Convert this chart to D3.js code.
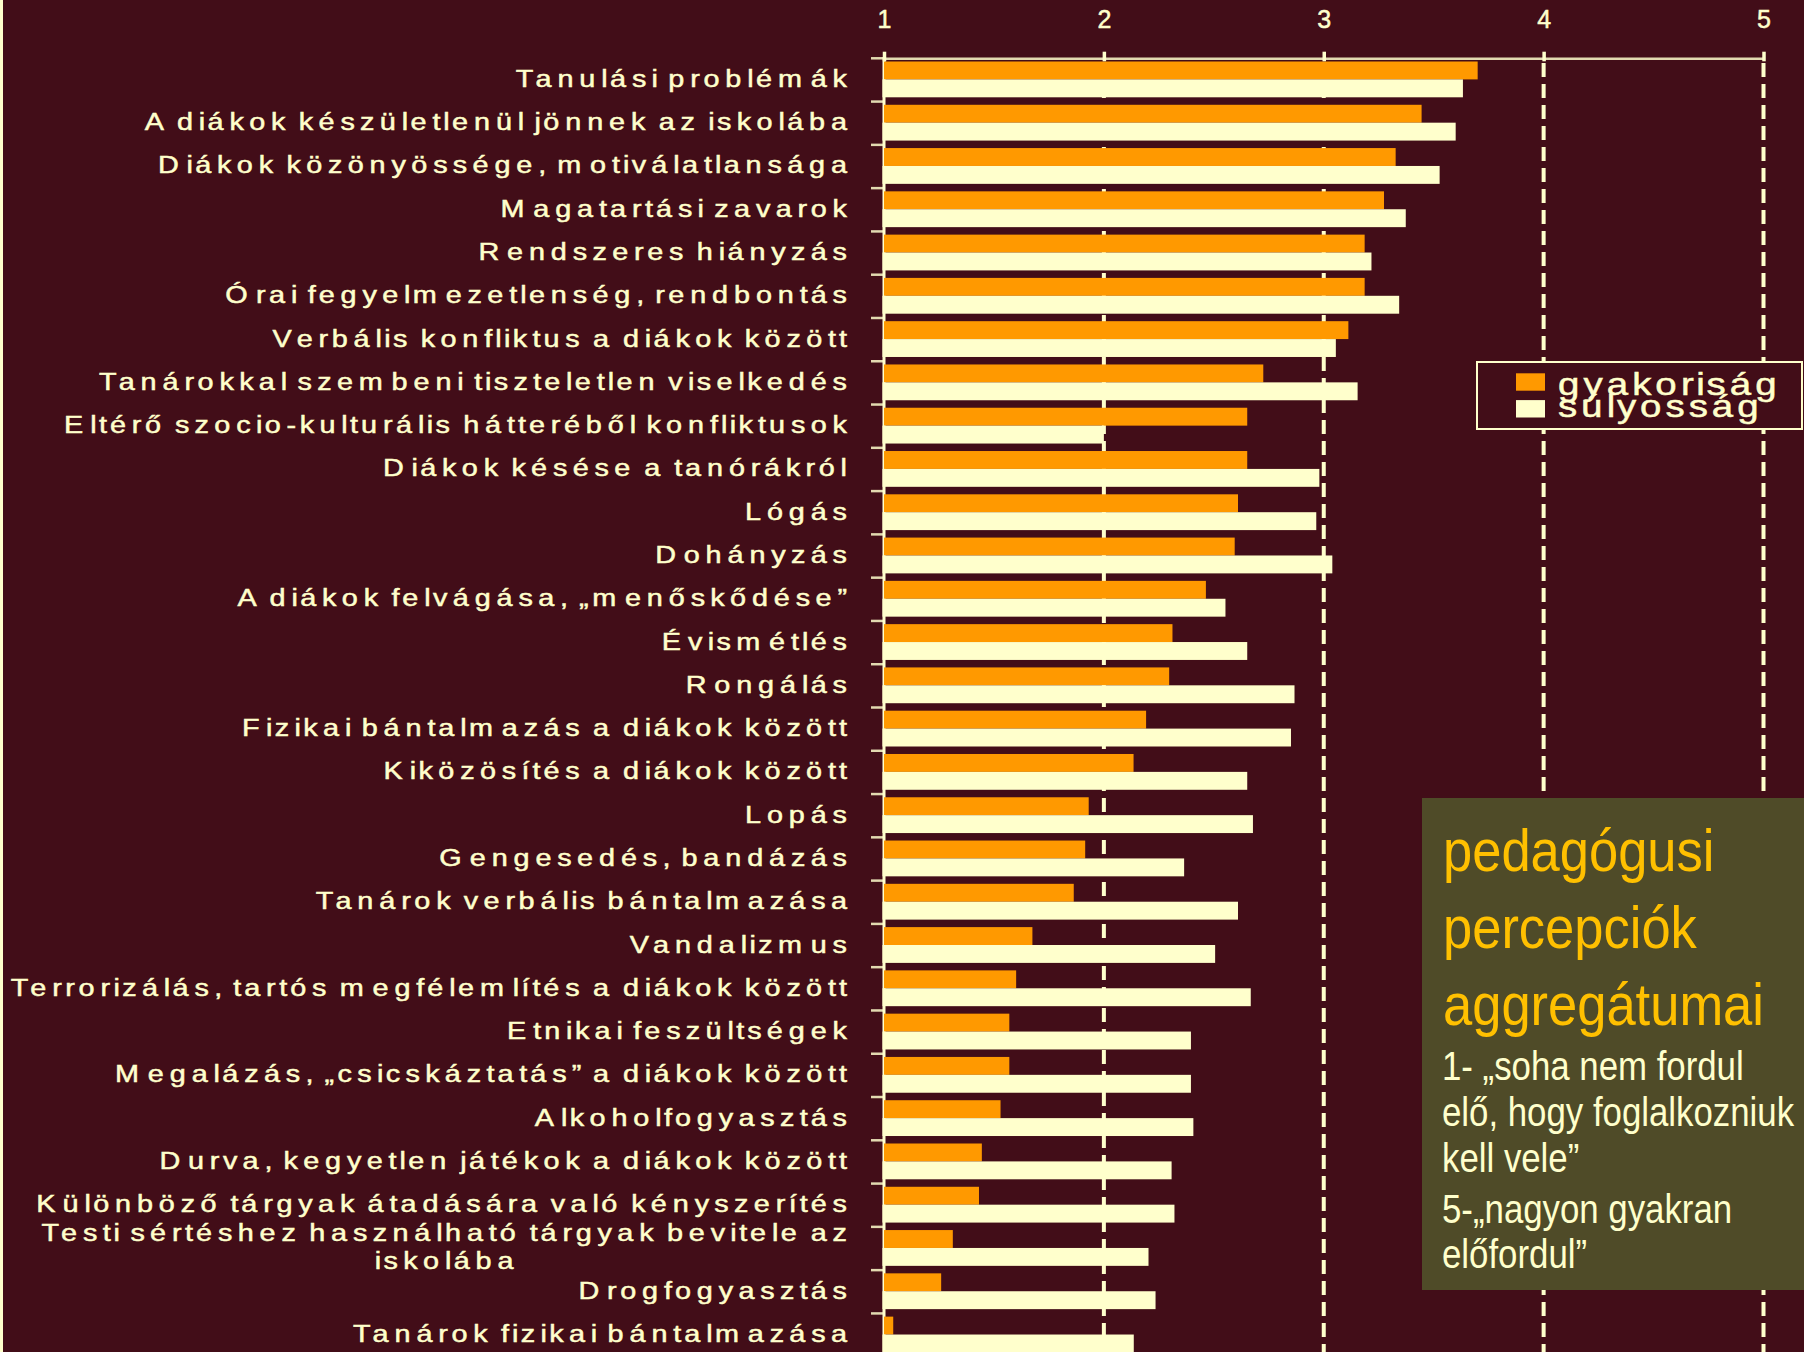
<!DOCTYPE html>
<html><head><meta charset="utf-8">
<script src="https://cdn.jsdelivr.net/npm/d3@7"></script>
<style>html,body{margin:0;padding:0;background:#420D18;} svg{display:block}</style>
</head><body>
<script>
// ---------- DATA ----------
const categories = [
  "Tanulási problémák",
  "A diákok készületlenül jönnek az iskolába",
  "Diákok közönyössége, motiválatlansága",
  "Magatartási zavarok",
  "Rendszeres hiányzás",
  "Órai fegyelmezetlenség, rendbontás",
  "Verbális konfliktus a diákok között",
  "Tanárokkal szembeni tiszteletlen viselkedés",
  "Eltérő szocio-kulturális hátteréből konfliktusok",
  "Diákok késése a tanórákról",
  "Lógás",
  "Dohányzás",
  "A diákok felvágása, „menőskődése”",
  "Évismétlés",
  "Rongálás",
  "Fizikai bántalmazás a diákok között",
  "Kiközösítés a diákok között",
  "Lopás",
  "Gengesedés, bandázás",
  "Tanárok verbális bántalmazása",
  "Vandalizmus",
  "Terrorizálás, tartós megfélemlítés a diákok között",
  "Etnikai feszültségek",
  "Megalázás, „csicskáztatás” a diákok között",
  "Alkoholfogyasztás",
  "Durva, kegyetlen játékok a diákok között",
  "Különböző tárgyak átadására való kényszerítés",
  "Testi sértéshez használható tárgyak bevitele az\niskolába",
  "Drogfogyasztás",
  "Tanárok fizikai bántalmazása"
];
const gyakorisag = [3.70, 3.445, 3.327, 3.274, 3.186, 3.186, 3.112, 2.725, 2.652, 2.652,
                    2.61, 2.595, 2.464, 2.312, 2.297, 2.192, 2.135, 1.931, 1.915, 1.863,
                    1.675, 1.601, 1.57, 1.57, 1.53, 1.445, 1.432, 1.313, 1.26, 1.042];
const sulyossag  = [3.633, 3.60, 3.527, 3.373, 3.217, 3.343, 3.055, 3.154, 2.0, 2.98,
                    2.966, 3.039, 2.553, 2.652, 2.867, 2.851, 2.652, 2.678, 2.365, 2.61,
                    2.506, 2.668, 2.396, 2.396, 2.407, 2.308, 2.321, 2.203, 2.235, 2.136];
const seriesNames = ["gyakoriság", "súlyosság"];
const xTicks = [1, 2, 3, 4, 5];
const boxTitle = ["pedagógusi", "percepciók", "aggregátumai"];
const boxBody1 = ["1- „soha nem fordul", "elő, hogy foglalkozniuk", "kell vele”"];
const boxBody2 = ["5-„nagyon gyakran", "előfordul”"];

// ---------- STYLE ----------
const W = 1804, H = 1352;
const BG = "#420D18", ORANGE = "#FF9900", CREAM = "#FFFFCC", OLIVE = "#4F4B28", GOLD = "#FFC000";
const FONT = "'Liberation Sans', Arial, sans-serif";

const svg = d3.select("body").append("svg").attr("width", W).attr("height", H);
svg.append("rect").attr("width", W).attr("height", H).attr("fill", BG);
svg.append("rect").attr("x", 0).attr("y", 0).attr("width", 3).attr("height", H).attr("fill", CREAM);

const x = d3.scaleLinear().domain([1, 5]).range([884, 1763.5]);
const bandTop = 58.3, bandH = 43.28;
const y = d3.scaleBand().domain(categories).range([bandTop, bandTop + bandH * categories.length]);

// gridlines (behind bars)
svg.append("g").selectAll("line").data(xTicks.slice(1)).join("line")
  .attr("x1", d => x(d)).attr("x2", d => x(d))
  .attr("y1", 63).attr("y2", H)
  .attr("stroke", CREAM).attr("stroke-width", 4).attr("stroke-dasharray", "14,7");

// left axis line
svg.append("line").attr("x1", x(1)).attr("x2", x(1)).attr("y1", bandTop - 1).attr("y2", H)
  .attr("stroke", CREAM).attr("stroke-width", 3);

// bars
const barOff = 3.2, barH = 17.9;
const rows = categories.map((c, i) => ({c, g: gyakorisag[i], s: sulyossag[i]}));
const bars = svg.append("g");
bars.selectAll("rect.g").data(rows).join("rect").attr("class", "g")
  .attr("x", x(1)).attr("y", d => y(d.c) + barOff)
  .attr("width", d => x(d.g) - x(1)).attr("height", barH).attr("fill", ORANGE);
bars.selectAll("rect.s").data(rows).join("rect").attr("class", "s")
  .attr("x", x(1) - 1.5).attr("y", d => y(d.c) + barOff + barH)
  .attr("width", d => x(d.s) - x(1) + 1.5).attr("height", barH).attr("fill", CREAM);

// left category tick marks (between categories)
const bounds = categories.map(c => y(c)).concat([y(categories[categories.length - 1]) + bandH]);
svg.append("g").selectAll("line").data(bounds).join("line")
  .attr("x1", 871).attr("x2", x(1) + 1).attr("y1", d => d).attr("y2", d => d)
  .attr("stroke", CREAM).attr("stroke-opacity", 0.85).attr("stroke-width", 2.5);

// top axis
const axTop = svg.append("g").attr("transform", `translate(0,${bandTop})`)
  .call(d3.axisTop(x).tickValues(xTicks).tickFormat(d3.format("d"))
        .tickSizeInner(6.6).tickSizeOuter(0).tickPadding(23.4));
axTop.select(".domain").attr("stroke", CREAM).attr("stroke-opacity", 0.85).attr("stroke-width", 2.5);
axTop.selectAll(".tick line").attr("stroke", CREAM).attr("stroke-width", 3.5).attr("y1", 3);
axTop.selectAll(".tick text").attr("fill", CREAM).attr("font-family", FONT).attr("font-size", 25)
  .attr("stroke", CREAM).attr("stroke-width", 0.5);

// widely-spaced text helper (GDI-like advances); glyphs stretched by s
function spacedText(parent, str, xPos, yBase, size, k, ksp, s, align, fill) {
  const g = parent.append("g").attr("transform", `scale(${s},1)`);
  const t = g.append("text").attr("font-family", FONT).attr("font-size", size)
    .attr("fill", fill).attr("stroke", fill).attr("stroke-width", 0.5)
    .attr("y", yBase).text(str);
  const n = str.length;
  const pos = [];
  let acc = 0, lastAdv = 0;
  for (let i = 0; i < n; i++) {
    const a = t.node().getSubStringLength(i, 1);
    pos.push(acc);
    acc += a * (str[i] === " " ? ksp : k);
    lastAdv = a;
  }
  const width = pos[n - 1] + lastAdv * s;
  let x0 = xPos;
  if (align === "end") x0 = xPos - width;
  else if (align === "middle") x0 = xPos - width / 2;
  t.attr("x", pos.map(p => ((x0 + p) / s).toFixed(2)).join(" "));
  return {x0, width};
}

// category labels
const K = 1.64, KSP = 1.2, S = 1.2, LABEL_RIGHT = 847;
const labG = svg.append("g");
categories.forEach(c => {
  const cy = y(c) + bandH / 2;
  const parts = c.split("\n");
  if (parts.length === 1) {
    spacedText(labG, c, LABEL_RIGHT, cy + 7, 24, K, KSP, S, "end", CREAM);
  } else {
    const r = spacedText(labG, parts[0], LABEL_RIGHT, cy - 7.8, 24, K, KSP, S, "end", CREAM);
    spacedText(labG, parts[1], r.x0 + r.width / 2, cy + 20.8, 24, K, KSP, S, "middle", CREAM);
  }
});

// legend
const lg = svg.append("g");
lg.append("rect").attr("x", 1477).attr("y", 362).attr("width", 325).attr("height", 67)
  .attr("fill", BG).attr("stroke", CREAM).attr("stroke-width", 2);
const legColors = [ORANGE, CREAM];
seriesNames.forEach((s, i) => {
  lg.append("rect").attr("x", 1516).attr("y", 373.3 + i * 26.8).attr("width", 29).attr("height", 17.4)
    .attr("fill", legColors[i]);
  spacedText(lg, s, 1558, 395 + i * 22.3, 32, 1.44, 1.44, 1.2, "start", CREAM);
});

// text box
const tb = svg.append("g");
tb.append("rect").attr("x", 1422).attr("y", 798).attr("width", W - 1422).attr("height", 492).attr("fill", OLIVE);
const titleBase = [870.7, 948.3, 1025];
boxTitle.forEach((s, i) => {
  tb.append("g").attr("transform", `translate(1443,${titleBase[i]}) scale(0.875,1)`)
    .append("text").attr("font-family", FONT).attr("font-size", 60).attr("fill", GOLD).text(s);
});
const bodyBase1 = [1080, 1125.5, 1171.5];
boxBody1.forEach((s, i) => {
  tb.append("g").attr("transform", `translate(1442,${bodyBase1[i]}) scale(0.87,1)`)
    .append("text").attr("font-family", FONT).attr("font-size", 40).attr("fill", CREAM).text(s);
});
const bodyBase2 = [1223.3, 1268.3];
boxBody2.forEach((s, i) => {
  tb.append("g").attr("transform", `translate(1442,${bodyBase2[i]}) scale(0.87,1)`)
    .append("text").attr("font-family", FONT).attr("font-size", 40).attr("fill", CREAM).text(s);
});
</script>
</body></html>
